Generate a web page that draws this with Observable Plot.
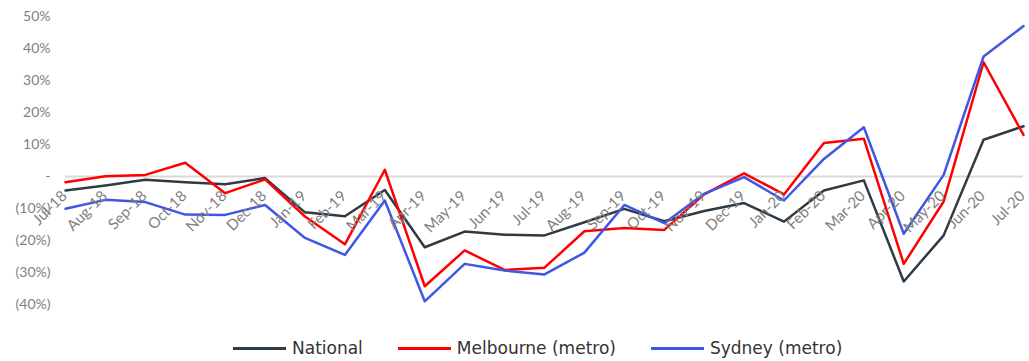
<!DOCTYPE html>
<html>
<head>
<meta charset="utf-8">
<script src="https://cdn.jsdelivr.net/npm/d3@7"></script>
<script src="https://cdn.jsdelivr.net/npm/@observablehq/plot@0.6"></script>
<style>
  html, body { margin: 0; padding: 0; background: #fff; }
  body { width: 1029px; height: 361px; overflow: hidden; font-family: Lato, "Open Sans", sans-serif; }
  #legend { display: flex; align-items: center; height: 26px; padding-left: 233px; font-family: "DejaVu Sans", sans-serif; font-size: 17px; color: #333; }
  .item { display: flex; align-items: center; margin-right: 35px; }
  .swatch { width: 53px; height: 3px; margin-right: 6px; }
</style>
</head>
<body>
<div id="chart"></div>
<div id="legend"></div>
<script>
const months = ["Jul-18","Aug-18","Sep-18","Oct-18","Nov-18","Dec-18","Jan-19","Feb-19","Mar-19","Apr-19","May-19","Jun-19","Jul-19","Aug-19","Sep-19","Oct-19","Nov-19","Dec-19","Jan-20","Feb-20","Mar-20","Apr-20","May-20","Jun-20","Jul-20"];
const national  = [-4.4,-2.8,-1.0,-1.8,-2.4,-0.5,-11.2,-12.4,-4.2,-22.1,-17.2,-18.2,-18.4,-14.3,-10.1,-14.0,-10.8,-8.3,-14.1,-4.4,-1.2,-32.8,-18.4,11.5,15.7];
const melbourne = [-1.8,0.1,0.5,4.3,-5.2,-0.9,-12.5,-21.2,2.1,-34.3,-23.1,-29.2,-28.5,-17.1,-16.1,-16.7,-5.6,1.0,-5.6,10.5,11.8,-27.3,-7.8,35.7,13.0];
const sydney    = [-10.1,-7.3,-8.0,-11.9,-12.0,-8.9,-19.2,-24.5,-7.5,-39.0,-27.3,-29.4,-30.6,-23.8,-8.9,-14.6,-5.4,-0.2,-7.5,5.5,15.4,-17.9,0.5,37.5,47.0];
const seriesNames = ["National","Melbourne (metro)","Sydney (metro)"];
const seriesColors = ["#2f3b44","#ff0000","#3f57e3"];
const yTicks = [-40,-30,-20,-10,0,10,20,30,40,50];

const seriesValues = [national, melbourne, sydney];
const data = [];
seriesNames.forEach((s, i) => months.forEach((m, j) => data.push({series: s, month: m, value: seriesValues[i][j]})));

const fmt = d => d === 0 ? "-" : d < 0 ? `(${-d}%)` : `${d}%`;

const chart = Plot.plot({
  width: 1029,
  height: 335,
  marginLeft: 65,
  marginRight: 6,
  marginTop: 16,
  marginBottom: 31,
  style: {fontFamily: "Lato, sans-serif", background: "#fff"},
  x: {type: "point", domain: months, padding: 0, round: false, axis: null},
  y: {domain: [-40, 50], axis: null},
  color: {domain: seriesNames, range: seriesColors},
  marks: [
    Plot.ruleY([0], {stroke: "#d9d9d9", strokeWidth: 2}),
    Plot.axisY({ticks: yTicks, tickFormat: fmt, tickSize: 0, tickPadding: 15, fontSize: 14, fill: "#7f7f7f", stroke: null, label: null}),
    Plot.line(data, {x: "month", y: "value", z: "series", stroke: "series", strokeWidth: 2.5}),
    Plot.text(months, {x: d => d, y: () => 0, text: d => d, rotate: -45, textAnchor: "end", dx: -1, dy: 17, fontSize: 15, fill: "#7f7f7f"})
  ]
});
document.getElementById("chart").appendChild(chart);

const legend = document.getElementById("legend");
seriesNames.forEach((s, i) => {
  const item = document.createElement("div");
  item.className = "item";
  const sw = document.createElement("span");
  sw.className = "swatch";
  sw.style.background = seriesColors[i];
  const t = document.createElement("span");
  t.textContent = s;
  item.appendChild(sw);
  item.appendChild(t);
  legend.appendChild(item);
});
</script>
</body>
</html>
